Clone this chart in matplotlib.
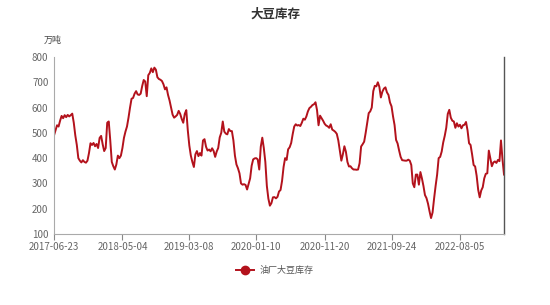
import matplotlib
matplotlib.use("Agg")
import matplotlib.pyplot as plt
import pandas as pd
from matplotlib.lines import Line2D

plt.rcParams["font.family"] = ["Noto Sans CJK SC", "DejaVu Sans"]

# weekly soybean stocks at crushers (10k tonnes)
dates = pd.date_range("2017-06-23", periods=297, freq="7D").strftime("%Y-%m-%d").tolist()
stocks = [
    490, 510, 530, 525, 548, 567, 558, 570, 562, 571,
    565, 570, 576, 540, 490, 452, 400, 390, 383, 392,
    385, 382, 390, 420, 459, 452, 460, 447, 456, 440,
    480, 488, 455, 428, 440, 540, 545, 470, 385, 368,
    355, 375, 410, 400, 410, 440, 480, 505, 525, 560,
    600, 635, 638, 655, 665, 652, 650, 655, 685, 709,
    703, 645, 728, 737, 755, 740, 758, 750, 720, 713,
    710, 705, 692, 672, 680, 650, 628, 600, 572, 560,
    565, 571, 587, 575, 555, 540, 575, 590, 510, 450,
    410, 385, 365, 415, 428, 408, 420, 410, 470, 475,
    445, 430, 434, 427, 439, 428, 405, 426, 440, 482,
    500, 545, 505, 497, 494, 515, 507, 507, 470, 410,
    375, 360, 340, 300, 295, 297, 294, 276, 298, 320,
    370, 395, 399, 400, 395, 355, 445, 481, 440, 385,
    290, 240, 212, 222, 245, 246, 241, 247, 268, 274,
    310, 365, 400, 393, 435, 443, 460, 495, 525, 534,
    529, 531, 527, 540, 556, 552, 565, 585, 598, 603,
    610, 613, 621, 590, 530, 568, 558, 548, 536, 529,
    526, 520, 534, 513, 509, 504, 496, 470, 430, 390,
    415, 447, 425, 385, 367, 368, 360, 355, 355, 354,
    355, 380, 446, 455, 465, 500, 540, 578, 585, 600,
    665, 686, 684, 700, 682, 640, 663, 675, 680, 660,
    650, 620, 605, 565, 531, 472, 458, 430, 405, 392,
    391, 390, 390, 394, 390, 373, 300, 285, 335, 335,
    295, 345, 320, 290, 254, 242, 220, 190, 163, 185,
    240, 290, 335, 400, 405, 426, 462, 488, 520, 575,
    591, 560, 548, 545, 520, 538, 525, 532, 518, 530,
    532, 543, 510, 459, 452, 415, 373, 367, 330, 275,
    245, 272, 285, 320, 338, 340, 430, 399, 368, 383,
    387, 381, 393, 388, 470, 395, 335,
]
tick_dates = ["2017-06-23", "2018-05-04", "2019-03-08", "2020-01-10",
              "2020-11-20", "2021-09-24", "2022-08-05"]

line_color = "#b3121c"
label_color = "#666666"

fig = plt.figure(figsize=(5.5, 3.05), dpi=100)
ax = fig.add_axes([0.0982, 0.2328, 0.8182, 0.5803])

x = list(range(len(dates)))
ax.plot(x, stocks, color=line_color, linewidth=1.4)

ax.set_xlim(0, len(dates) - 1)
ax.set_ylim(100, 800)
ax.set_yticks(range(100, 801, 100))
ax.set_xticks([dates.index(d) for d in tick_dates])
ax.set_xticklabels(tick_dates)

for side in ["top"]:
    ax.spines[side].set_visible(False)
ax.spines["left"].set_color("#aaaaaa")
ax.spines["bottom"].set_color("#aaaaaa")
ax.spines["right"].set_color("#555555")
ax.spines["right"].set_linewidth(1.0)
ax.tick_params(axis="y", length=0, labelsize=7, colors=label_color, pad=4)
ax.tick_params(axis="x", length=4, width=0.8, color="#888888",
               labelsize=7, labelcolor=label_color, pad=1.5)

fig.text(0.5, 0.955, "大豆库存", ha="center", va="center",
         fontsize=9, fontweight="bold", color="#333333")
fig.text(0.096, 0.866, "万吨", ha="center", va="center",
         fontsize=6.5, color="#444444")

handle = Line2D([0], [0], color=line_color, linewidth=1.4, marker="o",
                markersize=6, markerfacecolor=line_color)
fig.legend([handle], ["油厂大豆库存"], loc="center", bbox_to_anchor=(0.5, 0.114),
           frameon=False, fontsize=6.5, labelcolor="#555555",
           handlelength=2.0, handletextpad=0.6)

fig.savefig("out.png", dpi=100)
